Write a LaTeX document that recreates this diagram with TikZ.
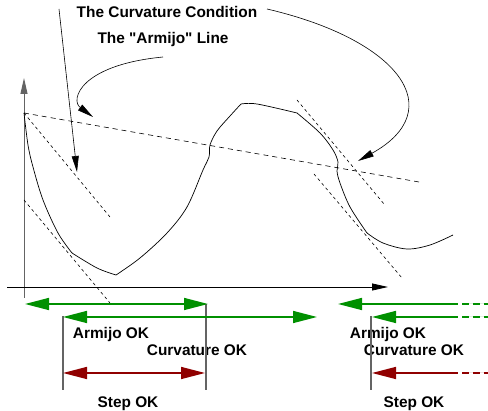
\documentclass[tikz,border=0pt]{standalone}
\usepackage{fontspec}
\setmainfont{Liberation Sans}[Ligatures=TeXOff]
\usetikzlibrary{arrows.meta}
\definecolor{fgreen}{RGB}{0,144,0}
\definecolor{fred}{RGB}{144,0,0}
\definecolor{axgray}{RGB}{100,100,100}
\tikzset{bigtip/.tip={Triangle[length=24pt,width=12pt]}}
\begin{document}
\begin{tikzpicture}[x=1pt,y=-1pt,
  lbl/.style={font=\bfseries\fontsize{15.4}{18}\selectfont, inner sep=0pt, anchor=base},
  blk/.style={-{Triangle[length=16pt,width=7pt]}, line width=0.6pt},
  fn/.style={line width=0.7pt},
  armline/.style={line width=0.6pt, dash pattern=on 5pt off 4pt},
  tanline/.style={line width=0.6pt, dash pattern=on 3pt off 3pt},
  grn/.style={line width=1.5pt, draw=fgreen, fill=fgreen},
  red/.style={line width=1.5pt, draw=fred, fill=fred},
  ext/.style={line width=1.5pt, dash pattern=on 7pt off 4pt},
  bar/.style={line width=1.2pt, draw=axgray}
]
\useasboundingbox (0,0) rectangle (488,411);

% texts
\node[lbl] (curvtxt) at (167,18) {The Curvature Condition};
\node[lbl] (armtxt) at (163,44) {The "Armijo" Line};
\node[lbl] (aok1) at (111,339) {Armijo OK};
\node[lbl] (cok1) at (197,356) {Curvature OK};
\node[lbl] (sok1) at (128,408) {Step OK};
\node[lbl] (aok2) at (388,339) {Armijo OK};
\node[lbl] (cok2) at (414,356) {Curvature OK};
\node[lbl] (sok2) at (414,408) {Step OK};

% axes
\coordinate (ybot) at (24,298);
\coordinate (ytop) at (24,78);
\coordinate (xl) at (7,287);
\coordinate (xr) at (388,287);
\draw[blk, draw=axgray, line width=1pt] (ybot) -- (ytop);
\draw[blk, line width=0.8pt] (xl) -- (xr);

% dashed lines
\coordinate (P0) at (24,113);
\coordinate (Aend) at (419,182);
\coordinate (T1end) at (110,217);
\coordinate (T2a) at (24,200);
\coordinate (T2b) at (110,303);
\coordinate (T3a) at (297,100);
\coordinate (T3b) at (384,204);
\coordinate (T4a) at (314,174);
\coordinate (T4b) at (402,278);
\draw[armline] (P0) -- (Aend);
\draw[tanline] (P0) -- (T1end);
\draw[tanline] (T2a) -- (T2b);
\draw[tanline] (T3a) -- (T3b);
\draw[tanline] (T4a) -- (T4b);

% function
\draw[fn] plot[smooth, tension=0.55] coordinates {(24,113) (28,145) (33,167) (43,200) (58,233) (72,253)};
\draw[fn] plot[smooth, tension=0.55] coordinates {(72,253) (97,268) (116,275)};
\draw[fn] plot[smooth, tension=0.55] coordinates {(116,275) (140,258) (167,233) (187,207) (203,170) (209,157) (210,145) (217,131) (230,116) (241,104)};
\draw[fn] plot[smooth, tension=0.55] coordinates {(241,104) (257,104) (297,113)};
\draw[fn] plot[smooth, tension=0.55] coordinates {(297,113) (320,133) (333,150) (338,162) (337,171) (340,183) (350,207) (367,233)};
\draw[fn] plot[smooth, tension=0.55] coordinates {(367,233) (383,243) (407,249) (430,245) (453,235)};

% annotation arrows
\coordinate (c1s) at (59,9);
\coordinate (c1e) at (77,172);
\draw[blk] (c1s) -- (c1e);
\coordinate (c2s) at (267,9);
\coordinate (c2e) at (358,161);
\draw[blk] (c2s) .. controls (400,40) and (450,110) .. (c2e);
\coordinate (a1s) at (163,57);
\coordinate (a1e) at (93,117);
\draw[blk] (a1s) .. controls (80,65) and (70,100) .. (a1e);

% vertical bars
\coordinate (v1t) at (63,316); \coordinate (v1b) at (63,390);
\coordinate (v2t) at (206,304); \coordinate (v2b) at (206,390);
\coordinate (v3t) at (371,316); \coordinate (v3b) at (371,390);
\draw[bar] (v1t) -- (v1b);
\draw[bar] (v2t) -- (v2b);
\draw[bar] (v3t) -- (v3b);

% green arrows
\coordinate (g1l) at (25,304); \coordinate (g1r) at (208,304);
\coordinate (g2l) at (63,317); \coordinate (g2r) at (317,317);
\draw[grn, {bigtip}-{bigtip}] (g1l) -- (g1r);
\draw[grn, {bigtip}-{bigtip}] (g2l) -- (g2r);
\coordinate (g3l) at (338,304); \coordinate (g3m) at (458,304); \coordinate (g3n) at (462,304); \coordinate (g3r) at (488,304);
\coordinate (g4l) at (372,317); \coordinate (g4m) at (458,317); \coordinate (g4n) at (462,317); \coordinate (g4r) at (488,317);
\draw[grn, {bigtip}-] (g3l) -- (g3m);
\draw[grn, ext] (g3n) -- (g3r);
\draw[grn, {bigtip}-] (g4l) -- (g4m);
\draw[grn, ext] (g4n) -- (g4r);

% red arrows
\coordinate (r1l) at (63,373); \coordinate (r1r) at (205,373);
\draw[red, {bigtip}-{bigtip}] (r1l) -- (r1r);
\coordinate (r2l) at (372,373); \coordinate (r2m) at (458,373); \coordinate (r2n) at (462,373); \coordinate (r2r) at (488,373);
\draw[red, {bigtip}-] (r2l) -- (r2m);
\draw[red, ext] (r2n) -- (r2r);
\end{tikzpicture}
\end{document}
